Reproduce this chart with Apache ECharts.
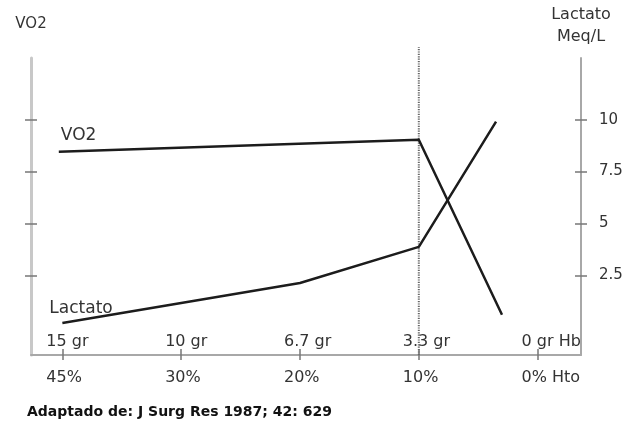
<!DOCTYPE html>
<html>
<head>
<meta charset="utf-8">
<script src="https://cdn.jsdelivr.net/npm/echarts@6/dist/echarts.min.js"></script>
<style>
  html, body { margin: 0; padding: 0; background: #fff; }
  #chart { width: 629px; height: 427px; }
</style>
</head>
<body>
<div id="chart"></div>
<script>
// tick labels (two rows under the x axis)
const hbLabels = ['15 gr', '10 gr', '6.7 gr', '3.3 gr', '0 gr Hb']
const htoLabels = ['45%', '30%', '20%', '10%', '0% Hto']
const xTicks = [0, 1, 2, 3, 4]
const lactTicks = [2.5, 5, 7.5, 10]

// series (x = position along the Hb / Hto axis)
const vo2X = [-0.03, 3, 3.7]
const vo2Y = [8.45, 9.03, 0.6]
const lactX = [0, 2, 3, 3.65]
const lactY = [0.2, 2.13, 3.87, 9.9]
const cutX = 3

const xMin = -0.264, xMax = 4.365
const yMin = -1.34, yMax = 12.97
const shift = 0.135

const font = 'DejaVu Sans'
const axisGray = '#a8a8a8'

function pairs(xs, ys) {
  return xs.map((x, i) => [x, ys[i]])
}

let chart = echarts.init(document.getElementById('chart'))

function yAx(pos, inside, extra) {
  return Object.assign({
    type: 'value', position: pos, min: yMin, max: yMax,
    splitLine: { show: false },
    axisLine: { show: false, onZero: false },
    axisTick: { show: true, inside: inside, length: 6, customValues: lactTicks, lineStyle: { color: '#777', width: 1.5 } },
    axisLabel: { show: false }
  }, extra)
}

function xAx(extra) {
  return Object.assign({
    type: 'value', position: 'bottom', min: xMin, max: xMax,
    splitLine: { show: false },
    axisLine: { show: false, onZero: false },
    axisTick: { show: false },
    axisLabel: { show: false }
  }, extra)
}

chart.setOption({
  animation: false,
  backgroundColor: '#fff',
  textStyle: { fontFamily: font },
  title: {
    text: 'Adaptado de: J Surg Res 1987; 42: 629',
    left: 22, top: 400,
    textStyle: { fontFamily: font, fontSize: 14, fontWeight: 'bold', color: '#111' }
  },
  grid: { left: 31, right: 48, top: 58, bottom: 72 },
  xAxis: [
    xAx({
      axisLine: { show: true, onZero: false, lineStyle: { color: axisGray, width: 2 } },
      axisTick: { show: true, length: 5, customValues: xTicks, lineStyle: { color: '#777', width: 1.5 } }
    }),
    xAx({
      axisTick: { show: true, inside: true, length: 6, customValues: xTicks, lineStyle: { color: '#777', width: 1.5 } }
    }),
    xAx({
      min: xMin + shift, max: xMax + shift,
      axisLabel: {
        show: true, inside: true, margin: 5, align: 'left', customValues: xTicks,
        formatter: v => hbLabels[Math.round(v)], fontSize: 16, color: '#333'
      }
    }),
    xAx({
      min: xMin + shift, max: xMax + shift,
      axisLabel: {
        show: true, margin: 15, align: 'left', customValues: xTicks,
        formatter: v => htoLabels[Math.round(v)], fontSize: 16, color: '#333'
      }
    })
  ],
  yAxis: [
    yAx('left', false, {
      name: 'VO2', nameLocation: 'end', nameGap: 26,
      nameTextStyle: { fontSize: 15, color: '#333', align: 'center' },
      axisLine: { show: true, onZero: false, lineStyle: { color: '#c8c8c8', width: 3 } }
    }),
    yAx('left', true),
    yAx('right', false, {
      name: 'Lactato\nMeq/L', nameLocation: 'end', nameGap: 10,
      nameTextStyle: { fontSize: 16, color: '#333', lineHeight: 22, align: 'center' },
      axisLine: { show: true, onZero: false, lineStyle: { color: axisGray, width: 2 } },
      axisLabel: {
        show: true, margin: 18, customValues: lactTicks, fontSize: 15, color: '#333',
        formatter: v => String(v)
      }
    }),
    yAx('right', true)
  ],
  series: [
    {
      type: 'line',
      data: [[cutX, yMin], [cutX, 13.5]],
      clip: false,
      symbol: 'none',
      silent: true,
      lineStyle: { color: '#666', width: 2, type: [1.2, 1.2] }
    },
    {
      type: 'line',
      data: pairs(vo2X, vo2Y).map((p, i) => i === 0
        ? { value: p, label: { show: true, formatter: 'VO2', position: [2, -25], fontSize: 17, color: '#333' } }
        : p),
      symbol: 'circle',
      symbolSize: 0,
      lineStyle: { color: '#1c1c1c', width: 2.5 },
      itemStyle: { color: '#1c1c1c' }
    },
    {
      type: 'line',
      data: pairs(lactX, lactY).map((p, i) => i === 0
        ? { value: p, label: { show: true, formatter: 'Lactato', position: [-13, -23], fontSize: 17, color: '#333' } }
        : p),
      symbol: 'circle',
      symbolSize: 0,
      lineStyle: { color: '#1c1c1c', width: 2.5 },
      itemStyle: { color: '#1c1c1c' }
    }
  ]
})
</script>
</body>
</html>
